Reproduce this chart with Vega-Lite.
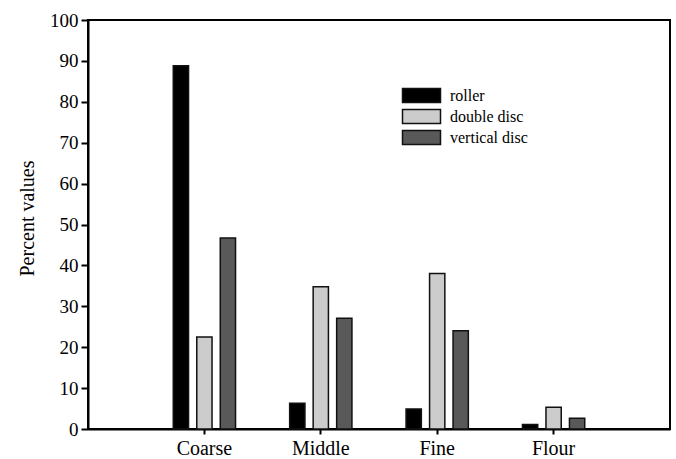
{
  "$schema": "https://vega.github.io/schema/vega-lite/v6.json",
  "width": 582,
  "height": 409,
  "autosize": {"type": "none"},
  "padding": {"left": 88, "top": 20, "right": 6, "bottom": 30},
  "background": "white",
  "config": {
    "view": {"stroke": "black", "strokeWidth": 2},
    "font": "Liberation Serif",
    "axis": {"grid": false, "domainColor": "black", "domainWidth": 2, "tickColor": "black", "tickWidth": 2, "labelColor": "black", "titleColor": "black", "labelFont": "Liberation Serif", "titleFont": "Liberation Serif", "titleFontWeight": "normal"},
    "legend": {"labelFont": "Liberation Serif"}
  },
  "data": {
    "values": [
      {"size": "Coarse", "machine": "roller", "percent": 88.8},
      {"size": "Coarse", "machine": "double disc", "percent": 22.5},
      {"size": "Coarse", "machine": "vertical disc", "percent": 46.7},
      {"size": "Middle", "machine": "roller", "percent": 6.3},
      {"size": "Middle", "machine": "double disc", "percent": 34.8},
      {"size": "Middle", "machine": "vertical disc", "percent": 27.1},
      {"size": "Fine", "machine": "roller", "percent": 4.9},
      {"size": "Fine", "machine": "double disc", "percent": 38.0},
      {"size": "Fine", "machine": "vertical disc", "percent": 24.0},
      {"size": "Flour", "machine": "roller", "percent": 1.1},
      {"size": "Flour", "machine": "double disc", "percent": 5.3},
      {"size": "Flour", "machine": "vertical disc", "percent": 2.6}
    ]
  },
  "mark": {"type": "bar", "stroke": "#111111", "strokeWidth": 1.5},
  "encoding": {
    "x": {
      "field": "size", "type": "nominal",
      "sort": ["Coarse", "Middle", "Fine", "Flour"],
      "scale": {"paddingInner": 0.465, "paddingOuter": 0.7325},
      "axis": {
        "title": null, "labelAngle": 0, "labelFontSize": 20, "tickSize": 5, "labelPadding": 4,
        "encode": {"labels": {"update": {"dy": {"signal": "datum.value === 'Middle' ? 5 : datum.value === 'Fine' ? -2 : datum.value === 'Flour' ? 3 : 0"}}}}
      }
    },
    "xOffset": {
      "field": "machine", "type": "nominal",
      "sort": ["roller", "double disc", "vertical disc"],
      "scale": {"paddingInner": 0.35, "paddingOuter": 0}
    },
    "y": {
      "field": "percent", "type": "quantitative",
      "scale": {"domain": [0, 100], "nice": false},
      "axis": {"title": "Percent values", "titleFontSize": 20, "labelFontSize": 19, "tickSize": 7, "labelPadding": 3, "values": [0, 10, 20, 30, 40, 50, 60, 70, 80, 90, 100], "titlePadding": 12, "titleY": 198}
    },
    "color": {
      "field": "machine", "type": "nominal",
      "sort": ["roller", "double disc", "vertical disc"],
      "scale": {"domain": ["roller", "double disc", "vertical disc"], "range": ["#000000", "#cccccc", "#595959"]},
      "legend": {
        "title": null, "orient": "none", "legendX": 323, "legendY": 65, "padding": 0,
        "symbolType": "M-2,-0.74H2V0.74H-2Z", "symbolSize": 361, "symbolStrokeColor": "#111111", "symbolStrokeWidth": 1.5,
        "labelFontSize": 16, "labelColor": "black", "labelOffset": 18, "rowPadding": 0
      }
    }
  }
}
